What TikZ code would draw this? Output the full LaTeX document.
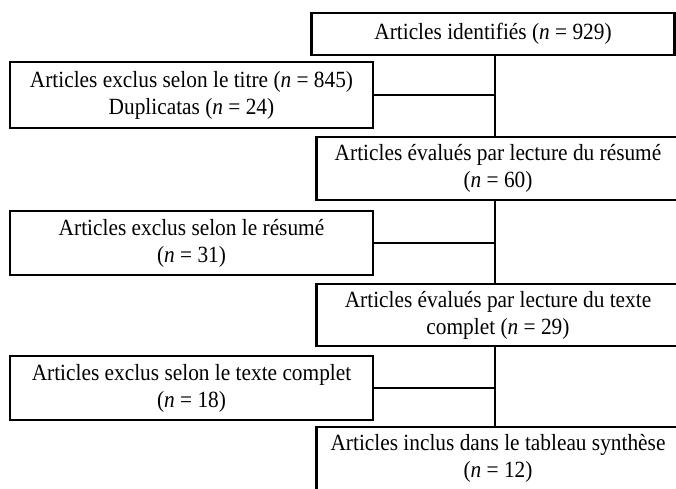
\documentclass[tikz,border=0pt]{standalone}
\usepackage{fontspec}
\setmainfont{Liberation Serif}[FakeStretch=0.92]

\tikzset{
  flowbox/.style={draw,line width=2.5pt,align=center,inner sep=0pt,
    font=\fontsize{23.2}{27}\selectfont},
  link/.style={line width=2.2pt}
}

\begin{document}
\begin{tikzpicture}[x=1pt,y=-1pt]
\useasboundingbox (0,0) rectangle (676,488);
\clip (0,0) rectangle (676,488);
\def\w{363pt}
% main column
\node[flowbox,minimum width=\w,minimum height=42pt] (m1) at (493,34) {Articles identifiés (\textit{n} = 929)};
\node[flowbox,minimum width=\w,minimum height=63pt] (m2) at (498,168.5) {Articles évalués par lecture du résumé\\(\textit{n} = 60)};
\node[flowbox,minimum width=\w,minimum height=62pt] (m3) at (498,315) {Articles évalués par lecture du texte\\complet (\textit{n} = 29)};
\node[flowbox,minimum width=\w,minimum height=63pt] (m4) at (498,458.5) {Articles inclus dans le tableau synthèse\\(\textit{n} = 12)};
% exclusions
\node[flowbox,minimum width=\w,minimum height=66pt] (e1) at (191.5,95) {Articles exclus selon le titre (\textit{n} = 845)\\Duplicatas (\textit{n} = 24)};
\node[flowbox,minimum width=\w,minimum height=64pt] (e2) at (191.5,243) {Articles exclus selon le résumé\\(\textit{n} = 31)};
\node[flowbox,minimum width=\w,minimum height=64pt] (e3) at (191.5,388) {Articles exclus selon le texte complet\\(\textit{n} = 18)};

\coordinate (j1) at (495,95);
\coordinate (j2) at (495,243);
\coordinate (j3) at (495,388);

\draw[link] (m1.south -| j1) -- (m2.north -| j1);
\draw[link] (m2.south -| j2) -- (m3.north -| j2);
\draw[link] (m3.south -| j3) -- (m4.north -| j3);
\draw[link] (e1.east) -- (j1);
\draw[link] (e2.east) -- (j2);
\draw[link] (e3.east) -- (j3);
\end{tikzpicture}
\end{document}
